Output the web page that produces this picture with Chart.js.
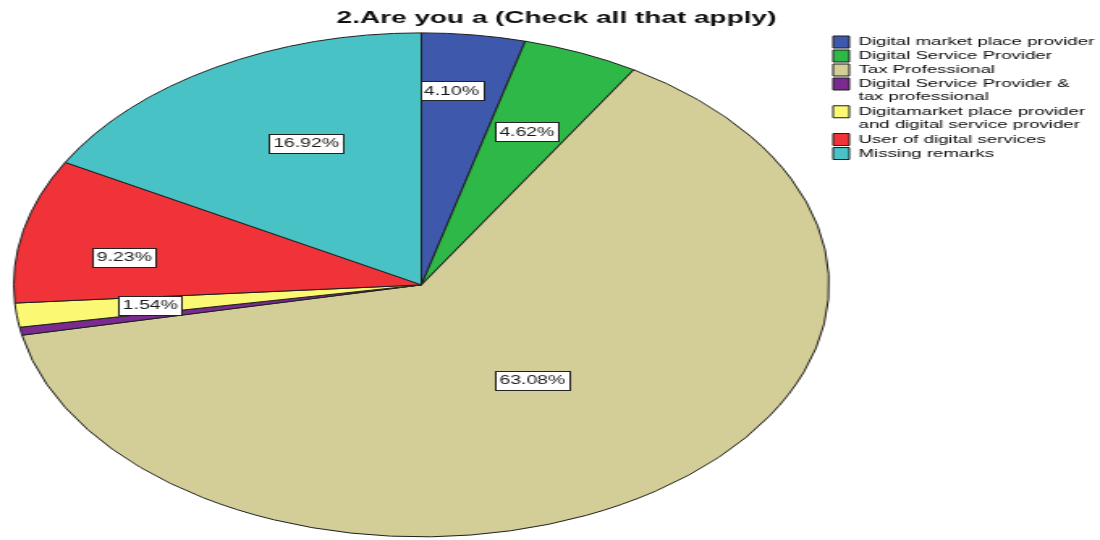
<!DOCTYPE html>
<html>
<head>
<meta charset="utf-8">
<title>2.Are you a (Check all that apply)</title>
<script src="https://cdn.jsdelivr.net/npm/chart.js@4.4.1/dist/chart.umd.min.js"></script>
<style>
  html, body { margin: 0; padding: 0; background: #fff; overflow: hidden; }
  #wrap { width: 1100px; height: 540px; overflow: hidden; }
  /* the chart is laid out narrow and stretched sideways, so the pie comes out as a wide oval */
  #pie { display: block; transform: scaleX(1.6176); transform-origin: 0 0; }
</style>
</head>
<body>
<div id="wrap"><canvas id="pie" width="680" height="540"></canvas></div>
<script>
const chartTitle = "2.Are you a (Check all that apply)";

const categories = [
  "Digital market place provider",
  "Digital Service Provider",
  "Tax Professional",
  ["Digital Service Provider &", "tax professional"],
  ["Digitamarket place provider", "and digital service provider"],
  "User of digital services",
  "Missing remarks",
];

// share of respondents, %
const percents = [4.10, 4.62, 63.08, 0.51, 1.54, 9.23, 16.92];

const colors = ["#3e58ac", "#2eb848", "#d3ce97", "#7b2a90", "#fbf873", "#ef3338", "#48c2c5"];

// where each value box sits: fraction of the radius, and a small turn (degrees) off the slice middle
const labelRadius = [0.774, 0.66, 0.467, 0, 0.67, 0.737, 0.628];
const labelTurn = [-1.9, 0, -0.6, 0, 0, -3.9, 3.7];

const fontFamily = "'Liberation Sans', Arial, Helvetica, sans-serif";

// white boxed percentage labels on the slices
const valueLabels = {
  id: "valueLabels",
  afterDatasetsDraw(chart) {
    const { ctx } = chart;
    const meta = chart.getDatasetMeta(0);
    ctx.save();
    ctx.font = `12px ${fontFamily}`;
    ctx.textAlign = "center";
    ctx.textBaseline = "middle";
    meta.data.forEach((arc, i) => {
      if (percents[i] < 1) return; // sliver is too thin for a label
      const { x, y, startAngle, endAngle, outerRadius } = arc.getProps(
        ["x", "y", "startAngle", "endAngle", "outerRadius"],
        true
      );
      const mid = (startAngle + endAngle) / 2 + (labelTurn[i] * Math.PI) / 180;
      const r = outerRadius * labelRadius[i];
      const lx = x + Math.cos(mid) * r;
      const ly = y + Math.sin(mid) * r;
      const text = percents[i].toFixed(2) + "%";
      const w = Math.round(ctx.measureText(text).width + 5);
      const h = 19;
      const left = Math.round(lx - w / 2) + 0.5;
      const top = Math.round(ly - h / 2) + 0.5;
      ctx.fillStyle = "#fff";
      ctx.fillRect(left, top, w, h);
      ctx.strokeStyle = "#222";
      ctx.lineWidth = 1;
      ctx.strokeRect(left, top, w, h);
      ctx.fillStyle = "#1a1a1a";
      ctx.fillText(text, lx, ly + 0.5);
    });
    ctx.restore();
  },
};

new Chart(document.getElementById("pie"), {
  type: "pie",
  data: {
    labels: categories,
    datasets: [
      {
        data: percents,
        backgroundColor: colors,
        borderColor: "#1e1e1e",
        borderWidth: 1,
      },
    ],
  },
  options: {
    responsive: false,
    animation: false,
    layout: {
      padding: { left: 8, bottom: 2 },
    },
    plugins: {
      title: {
        display: true,
        text: chartTitle,
        color: "#111",
        font: { family: fontFamily, size: 17.3, weight: "bold" },
        padding: { top: 8, bottom: 3 },
      },
      legend: {
        position: "right",
        align: "start",
        maxWidth: 167,
        // empty title only pushes the entries down below the chart title
        title: {
          display: true,
          text: "",
          font: { size: 2, lineHeight: 1 },
          padding: { top: 32, bottom: 0 },
        },
        labels: {
          boxWidth: 10,
          boxHeight: 12,
          padding: 2,
          color: "#0a0a0a",
          font: { family: fontFamily, size: 11.5, lineHeight: 1.12 },
        },
      },
      tooltip: { enabled: false },
    },
  },
  plugins: [valueLabels],
});
</script>
</body>
</html>
